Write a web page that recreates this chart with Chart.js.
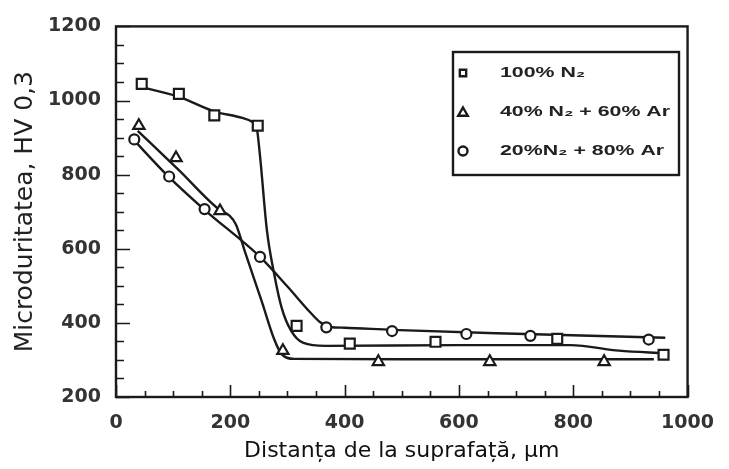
<!DOCTYPE html>
<html>
<head>
<meta charset="utf-8">
<script src="https://cdn.jsdelivr.net/npm/chart.js@4.4.1/dist/chart.umd.min.js"></script>
<style>
  html, body { margin: 0; padding: 0; background: #fff; }
  #wrap { width: 729px; height: 469px; }
</style>
</head>
<body>
<div id="wrap"><canvas id="chart" width="729" height="469"></canvas></div>
<script>
const n2X = [45, 110, 172, 248, 316, 409, 559, 772, 958];
const n2Y = [1045, 1018, 960, 932, 392, 344, 349, 357, 314];
const n40X = [40, 105, 182, 292, 459, 654, 854];
const n40Y = [932, 845, 702, 325, 295, 295, 295];
const n20X = [32, 93, 155, 252, 368, 483, 613, 725, 932];
const n20Y = [895, 795, 707, 578, 388, 378, 370, 365, 355];

// Hand-drawn trend curves
const fitN2X = [40, 108, 171, 221, 238, 246, 252, 264, 277, 290, 306, 328, 367, 600, 795, 880, 960];
const fitN2Y = [1038, 1011, 971, 953, 943, 928, 850, 650, 530, 440, 380, 346, 338, 340, 340, 325, 318];
const fitN40X = [38, 110, 181, 198, 210, 226, 255, 277, 290, 312, 500, 941];
const fitN40Y = [918, 812, 705, 690, 665, 590, 458, 355, 315, 303, 302, 302];
const fitN20X = [29, 91, 155, 252, 300, 340, 358, 375, 400, 483, 716, 961];
const fitN20Y = [897, 796, 705, 578, 498, 428, 401, 389, 387, 381, 370, 360];

const seriesNames = ['100% N\u2082', '40% N\u2082 + 60% Ar', '20%N\u2082 + 80% Ar'];
const seriesStyles = ['rect', 'triangle', 'circle'];

const xMin = 0, xMax = 1000, xStep = 200, xMinor = 50;
const yMin = 200, yMax = 1200, yStep = 200, yMinor = 50;

const ink = '#1a1a1a';

function pts(xs, ys) {
    return xs.map((x, i) => ({ x: x, y: ys[i] }));
}

// Frame + inward ticks
const frameAndTicks = {
    id: 'frameAndTicks',
    beforeDatasetsDraw(chart) {
        const { ctx, chartArea: a, scales } = chart;
        const x = scales.x, y = scales.y;
        ctx.save();
        ctx.strokeStyle = ink;
        ctx.lineWidth = 1.6;
        ctx.beginPath();
        for (let v = xMin; v <= xMax; v += xMinor) {
            const px = Math.round(x.getPixelForValue(v)) + 0.5;
            const len = (v % xStep === 0) ? 12 : 6;
            ctx.moveTo(px, a.bottom);
            ctx.lineTo(px, a.bottom - len);
        }
        for (let v = yMin; v <= yMax; v += yMinor) {
            const py = Math.round(y.getPixelForValue(v)) + 0.5;
            const len = (v % yStep === 0) ? 14 : 8;
            ctx.moveTo(a.left, py);
            ctx.lineTo(a.left + len, py);
        }
        ctx.stroke();
        ctx.lineWidth = 2.4;
        ctx.strokeRect(a.left, a.top, a.right - a.left, a.bottom - a.top);
        ctx.restore();
    }
};

// Boxed legend inside the plot
const boxLegend = {
    id: 'boxLegend',
    afterDraw(chart) {
        const { ctx } = chart;
        const bx = 453, by = 52, bw = 226, bh = 123;
        ctx.save();
        ctx.strokeStyle = ink;
        ctx.lineWidth = 2.4;
        ctx.strokeRect(bx, by, bw, bh);
        ctx.font = 'bold 15px "Liberation Sans", Arial, sans-serif';
        ctx.textBaseline = 'middle';
        const sx = 170 / ctx.measureText(seriesNames[1]).width;
        seriesNames.forEach((name, i) => {
            const cy = by + 21 + i * 39;
            ctx.fillStyle = '#fff';
            ctx.strokeStyle = ink;
            Chart.helpers.drawPoint(ctx, {
                pointStyle: seriesStyles[i],
                radius: seriesStyles[i] === 'triangle' ? 5.5 : 4.5,
                borderWidth: 2.6,
                rotation: 0
            }, bx + 10, cy + (seriesStyles[i] === 'triangle' ? 1 : 0));
            ctx.fillStyle = '#222';
            ctx.save();
            ctx.translate(bx + 47, cy);
            ctx.scale(sx, 1);
            ctx.fillText(name, 0, 0);
            ctx.restore();
        });
        ctx.restore();
    }
};

function markerSet(label, xs, ys, style, r) {
    return {
        type: 'scatter',
        label: label,
        data: pts(xs, ys),
        pointStyle: style,
        pointRadius: r,
        pointHoverRadius: r,
        pointBorderWidth: 2.2,
        pointBorderColor: ink,
        pointBackgroundColor: '#fff',
        showLine: false,
        order: 0
    };
}

function curveSet(xs, ys) {
    return {
        type: 'line',
        data: pts(xs, ys),
        borderColor: ink,
        borderWidth: 2.4,
        pointRadius: 0,
        fill: false,
        cubicInterpolationMode: 'monotone',
        order: 1
    };
}

const tickFont = { family: '"DejaVu Sans", sans-serif', size: 19, weight: 'bold' };

new Chart(document.getElementById('chart').getContext('2d'), {
    type: 'scatter',
    data: {
        datasets: [
            curveSet(fitN2X, fitN2Y),
            curveSet(fitN40X, fitN40Y),
            curveSet(fitN20X, fitN20Y),
            markerSet(seriesNames[0], n2X, n2Y, 'rect', 7),
            markerSet(seriesNames[1], n40X, n40Y, 'triangle', 6.5),
            markerSet(seriesNames[2], n20X, n20Y, 'circle', 5)
        ]
    },
    options: {
        responsive: false,
        animation: false,
        events: [],
        layout: { padding: { left: 0, top: 21, right: 21, bottom: 5 } },
        plugins: {
            legend: { display: false },
            tooltip: { enabled: false }
        },
        scales: {
            x: {
                type: 'linear',
                min: xMin, max: xMax,
                afterFit(s) { s.height = 67; },
                grid: { display: false, drawTicks: false },
                border: { display: false },
                ticks: {
                    stepSize: xStep,
                    padding: 15,
                    color: '#333',
                    font: tickFont,
                    callback: (v) => String(v)
                },
                title: {
                    display: true,
                    text: 'Distanța de la suprafață, μm',
                    color: '#111',
                    padding: { top: 0, bottom: 0 },
                    font: { family: '"DejaVu Sans", sans-serif', size: 22 }
                }
            },
            y: {
                type: 'linear',
                min: yMin, max: yMax,
                afterFit(s) { s.width = 116; },
                grid: { display: false, drawTicks: false },
                border: { display: false },
                ticks: {
                    stepSize: yStep,
                    padding: 15,
                    color: '#333',
                    font: tickFont,
                    callback: (v) => String(v)
                },
                title: {
                    display: true,
                    text: 'Microduritatea, HV 0,3',
                    color: '#222',
                    padding: { top: 10, bottom: 0 },
                    font: { family: '"DejaVu Sans", sans-serif', size: 25 }
                }
            }
        }
    },
    plugins: [frameAndTicks, boxLegend]
});
</script>
</body>
</html>
